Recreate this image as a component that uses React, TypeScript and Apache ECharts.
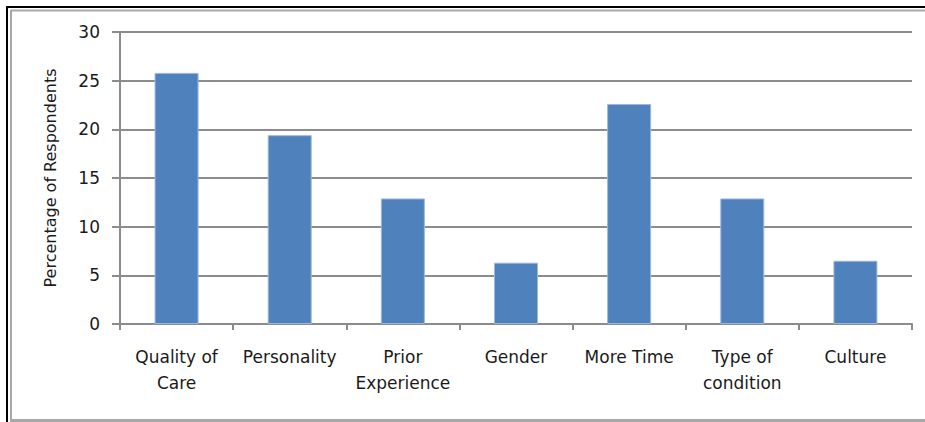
import React, { useEffect, useRef } from "react";
import * as echarts from "echarts";

const categories = [
  "Quality of\nCare",
  "Personality",
  "Prior\nExperience",
  "Gender",
  "More Time",
  "Type of\ncondition",
  "Culture",
];
const values = [25.8, 19.4, 12.9, 6.3, 22.6, 12.9, 6.5];
const yAxisTitle = "Percentage of Respondents";
const yMin = 0;
const yMax = 30;
const yStep = 5;

export default function App() {
  const ref = useRef<HTMLDivElement>(null);
  useEffect(() => {
    if (!ref.current) return;
    const chart = echarts.init(ref.current, undefined, { renderer: "svg" });
    const font = "'DejaVu Sans', sans-serif";
    chart.setOption({
      animation: false,
      backgroundColor: "#ffffff",
      grid: { left: 120, right: 13, top: 32, bottom: 98, containLabel: false },
      xAxis: {
        type: "category",
        data: categories,
        boundaryGap: true,
        axisLine: { show: true, lineStyle: { color: "#8c8c8c", width: 2 } },
        axisTick: { show: true, length: 6, alignWithLabel: false, lineStyle: { color: "#8c8c8c", width: 2 } },
        axisLabel: {
          interval: 0,
          margin: 20,
          fontFamily: font,
          fontSize: 17,
          lineHeight: 26,
          color: "#1a1a1a",
        },
        splitLine: { show: false },
      },
      yAxis: {
        type: "value",
        min: yMin,
        max: yMax,
        interval: yStep,
        name: yAxisTitle,
        nameLocation: "middle",
        nameRotate: 90,
        nameGap: 62,
        nameTextStyle: { fontFamily: font, fontSize: 16, color: "#1a1a1a" },
        axisLine: { show: true, lineStyle: { color: "#8c8c8c", width: 2 } },
        axisTick: { show: true, inside: false, length: 8, lineStyle: { color: "#8c8c8c", width: 2 } },
        axisLabel: { margin: 20, fontFamily: font, fontSize: 17, color: "#1a1a1a" },
        splitLine: { show: true, lineStyle: { color: "#8c8c8c", width: 2 } },
      },
      series: [
        {
          type: "bar",
          data: values,
          barWidth: 44,
          itemStyle: { color: "#4F81BD", borderColor: "#9db8dc", borderWidth: 1 },
        },
      ],
      graphic: [
        { type: "line", shape: { x1: 7, y1: 7, x2: 925, y2: 7 }, style: { stroke: "#000", lineWidth: 2 }, silent: true },
        { type: "line", shape: { x1: 7, y1: 6, x2: 7, y2: 422 }, style: { stroke: "#000", lineWidth: 2 }, silent: true },
        { type: "line", shape: { x1: 11, y1: 10.5, x2: 925, y2: 10.5 }, style: { stroke: "#a8a8a8", lineWidth: 2 }, silent: true },
        { type: "line", shape: { x1: 11, y1: 10, x2: 11, y2: 421 }, style: { stroke: "#a8a8a8", lineWidth: 2 }, silent: true },
        { type: "line", shape: { x1: 10, y1: 420.5, x2: 925, y2: 420.5 }, style: { stroke: "#a8a8a8", lineWidth: 3 }, silent: true },
      ],
    });
    return () => chart.dispose();
  }, []);
  return (
    <div
      ref={ref}
      style={{ position: "absolute", left: 0, top: 0, width: 925, height: 422 }}
    />
  );
}
